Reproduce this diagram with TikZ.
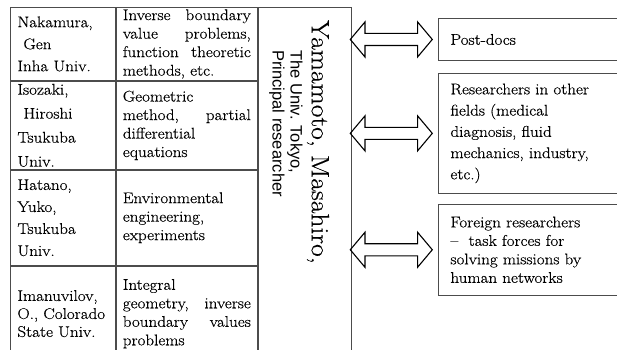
\documentclass[tikz,border=0pt]{standalone}
\usepackage{fontspec}
\setmainfont{Latin Modern Roman}[FakeStretch=1.1, FakeBold=0.4]
\newfontfamily\subfont{Liberation Sans}
\usetikzlibrary{positioning, shapes.arrows}

\begin{document}
\begin{tikzpicture}[x=1pt, y=-1pt,
    every node/.style={font=\fontsize{15.5}{18.5}\selectfont, inner sep=0pt},
    cell/.style={draw=black!70, line width=0.9pt, align=left, inner ysep=2pt},
    namecell/.style={cell, text width=91pt, inner xsep=7pt, font=\fontsize{15.5}{22}\selectfont},
    fieldcell/.style={cell, text width=128pt, inner xsep=6.5pt},
    sidebox/.style={draw=black!70, line width=0.9pt, align=left, text width=170pt, inner xsep=12pt, inner ysep=3pt},
    dblarrow/.style={double arrow, draw, line width=1.1pt, inner sep=0pt, minimum height=82pt,
        double arrow head extend=11.5pt, double arrow tip angle=100}]

    \useasboundingbox (0,0) rectangle (617,349);

    % Co-researchers table
    \node[namecell, minimum height=73pt, anchor=north west] (n1) at (10,7) {Nakamura,\\ \hspace{6pt}Gen\\ Inha Univ.};
    \node[fieldcell, minimum height=73pt, right=0pt of n1] (f1) {Inverse\hfill boundary\\ value\hfill problems,\\ function\hfill theoretic\\ methods, etc.};

    \node[namecell, minimum height=88pt, below=0pt of n1, font=\fontsize{15.5}{24}\selectfont] (n2) {Isozaki,\\ \hspace{6pt}Hiroshi\\ Tsukuba\\ Univ.};
    \node[fieldcell, minimum height=88pt, right=0pt of n2] (f2) {Geometric\\ method,\hfill partial\\ differential\\ equations};

    \node[namecell, minimum height=95pt, below=0pt of n2] (n3) {Hatano,\\ Yuko,\\ Tsukuba\\ Univ.};
    \node[fieldcell, minimum height=95pt, right=0pt of n3] (f3) {Environmental\\ engineering,\\ experiments};

    \node[namecell, minimum height=95pt, below=0pt of n3, font=\fontsize{15.5}{18}\selectfont] (n4) {Imanuvilov,\\ O., Colorado\\ State Univ.};
    \node[fieldcell, minimum height=95pt, right=0pt of n4] (f4) {Integral\\ geometry,\hfill inverse\\ boundary\hfill values\\ problems};

    % Principal researcher
    \node[draw=black!70, line width=0.9pt, minimum width=93pt, minimum height=360pt, anchor=north west] (yam) at (f1.north east) {};
    \node[rotate=-90, anchor=west, font=\fontsize{25}{28}\selectfont] (yamname) at (318,20) {Yamamoto, Masahiro,};
    \node[rotate=-90, anchor=west, align=left, font=\subfont\fontsize{16.5}{18}\selectfont] (yamaff) at (286,50) {The Univ. Tokyo,\\ Principal researcher};

    % Partners
    \node[sidebox, minimum height=42pt, anchor=north west] (post) at (438,18) {Post-docs};
    \node[sidebox, minimum height=120pt, below=12pt of post, font=\fontsize{15.5}{21.25}\selectfont] (other) {Researchers in other\\ fields (medical\\ diagnosis, fluid\\ mechanics, industry,\\ etc.)};
    \node[sidebox, minimum height=91pt, below=10pt of other] (foreign) {Foreign researchers\\ \textendash\ \ task forces for\\ solving missions by\\ human networks};

    % Links
    \node[dblarrow, left=5pt of post] (link1) {\rule{0pt}{11pt}};
    \node[dblarrow, left=5pt of other] (link2) {\rule{0pt}{11pt}};
    \node[dblarrow, left=5pt of foreign] (link3) {\rule{0pt}{11pt}};

\end{tikzpicture}
\end{document}
